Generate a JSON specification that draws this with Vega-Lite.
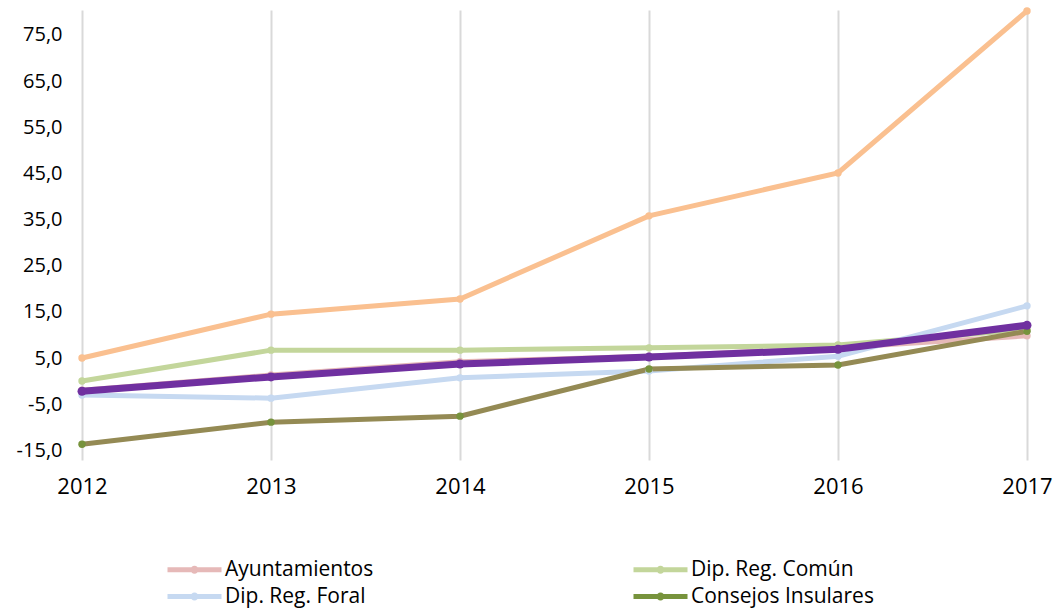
{
  "$schema": "https://vega.github.io/schema/vega-lite/v6.json",
  "autosize": "none",
  "width": 945,
  "height": 450,
  "padding": {"left": 82, "top": 10, "right": 33, "bottom": 154},
  "background": "white",
  "config": {"font": "Open Sans", "view": {"stroke": null}},
  "data": {"values": [
    {"year": "2012", "serie": "Ayuntamientos", "v": -2.0},
    {"year": "2013", "serie": "Ayuntamientos", "v": 1.3},
    {"year": "2014", "serie": "Ayuntamientos", "v": 4.2},
    {"year": "2015", "serie": "Ayuntamientos", "v": 5.4},
    {"year": "2016", "serie": "Ayuntamientos", "v": 7.2},
    {"year": "2017", "serie": "Ayuntamientos", "v": 9.8},
    {"year": "2012", "serie": "Dip. Reg. Común", "v": 0.0},
    {"year": "2013", "serie": "Dip. Reg. Común", "v": 6.7},
    {"year": "2014", "serie": "Dip. Reg. Común", "v": 6.7},
    {"year": "2015", "serie": "Dip. Reg. Común", "v": 7.2},
    {"year": "2016", "serie": "Dip. Reg. Común", "v": 7.8},
    {"year": "2017", "serie": "Dip. Reg. Común", "v": 11.2},
    {"year": "2012", "serie": "Dip. Reg. Foral", "v": -3.0},
    {"year": "2013", "serie": "Dip. Reg. Foral", "v": -3.7},
    {"year": "2014", "serie": "Dip. Reg. Foral", "v": 0.7},
    {"year": "2015", "serie": "Dip. Reg. Foral", "v": 2.2},
    {"year": "2016", "serie": "Dip. Reg. Foral", "v": 5.4},
    {"year": "2017", "serie": "Dip. Reg. Foral", "v": 16.3},
    {"year": "2012", "serie": "Consejos Insulares", "v": -13.7},
    {"year": "2013", "serie": "Consejos Insulares", "v": -8.9},
    {"year": "2014", "serie": "Consejos Insulares", "v": -7.6},
    {"year": "2015", "serie": "Consejos Insulares", "v": 2.6},
    {"year": "2016", "serie": "Consejos Insulares", "v": 3.5},
    {"year": "2017", "serie": "Consejos Insulares", "v": 10.8},
    {"year": "2012", "serie": "Cabildos Insulares", "v": 5.0},
    {"year": "2013", "serie": "Cabildos Insulares", "v": 14.5},
    {"year": "2014", "serie": "Cabildos Insulares", "v": 17.8},
    {"year": "2015", "serie": "Cabildos Insulares", "v": 35.8},
    {"year": "2016", "serie": "Cabildos Insulares", "v": 45.1},
    {"year": "2017", "serie": "Cabildos Insulares", "v": 80.2},
    {"year": "2012", "serie": "Total", "v": -2.2},
    {"year": "2013", "serie": "Total", "v": 0.9},
    {"year": "2014", "serie": "Total", "v": 3.7},
    {"year": "2015", "serie": "Total", "v": 5.2},
    {"year": "2016", "serie": "Total", "v": 6.9},
    {"year": "2017", "serie": "Total", "v": 12.1}
  ]},
  "encoding": {
    "x": {
      "field": "year", "type": "ordinal",
      "scale": {"type": "point", "padding": 0},
      "axis": {"title": null, "labelAngle": 0, "domain": false, "ticks": false, "grid": true, "gridColor": "#D9D9D9", "gridWidth": 2, "labelFontSize": 22, "labelColor": "#000000", "labelPadding": 16, "labelFont": "Open Sans"}
    },
    "y": {
      "field": "v", "type": "quantitative",
      "scale": {"domain": [-17.1, 80.4], "nice": false, "zero": false},
      "axis": {"title": null, "values": [-15, -5, 5, 15, 25, 35, 45, 55, 65, 75], "labelExpr": "replace((datum.value < 0 ? '-' : '') + format(abs(datum.value), '.1f'), '.', ',')", "domain": false, "ticks": false, "grid": false, "labelFontSize": 20, "labelColor": "#000000", "labelPadding": 20, "labelFont": "Open Sans"}
    }
  },
  "layer": [
    {
      "data": {"values": [{"z": 0}]},
      "mark": {"type": "rule", "color": "#D9D9D9", "strokeWidth": 2},
      "encoding": {"x": null, "y": {"datum": 0}}
    },
    {
      "transform": [{"filter": "datum.serie !== 'Total'"}],
      "mark": {"type": "line", "strokeWidth": 5},
      "encoding": {
        "color": {
          "field": "serie", "type": "nominal",
          "scale": {
            "domain": ["Ayuntamientos", "Dip. Reg. Común", "Dip. Reg. Foral", "Consejos Insulares", "Cabildos Insulares", "Total"],
            "range": ["#E6B9B8", "#C3D69B", "#C6D9F1", "#948A54", "#FAC090", "#7030A0"]
          },
          "legend": {
            "values": ["Ayuntamientos", "Dip. Reg. Común", "Dip. Reg. Foral", "Consejos Insulares"],
            "title": null,
            "orient": "none",
            "direction": "horizontal",
            "legendX": 102,
            "legendY": 549,
            "columns": 2,
            "columnPadding": 259,
            "rowPadding": 5,
            "symbolType": "M-2.7,-0.25L2.7,-0.25L2.7,0.25L-2.7,0.25Z M-0.4,0A0.4,0.4 0 1,1 0.4,0A0.4,0.4 0 1,1 -0.4,0Z",
            "symbolSize": 400,
            "symbolStrokeWidth": 0,
            "labelFontSize": 21,
            "labelLimit": 400,
            "labelFont": "Open Sans",
            "labelColor": "#000000",
            "labelOffset": 20,
            "encode": {"symbols": {"update": {"fill": {"signal": "datum.value === 'Ayuntamientos' ? '#E6B9B8' : datum.value === 'Dip. Reg. Común' ? '#C3D69B' : datum.value === 'Dip. Reg. Foral' ? '#C6D9F1' : '#948A54'"}, "strokeWidth": {"value": 0}, "opacity": {"value": 1}}}}
          }
        }
      }
    },
    {
      "transform": [{"filter": "datum.serie !== 'Total'"}],
      "mark": {"type": "point", "filled": true, "size": 55, "opacity": 1},
      "encoding": {
        "fill": {
          "field": "serie", "type": "nominal",
          "scale": {
            "domain": ["Ayuntamientos", "Dip. Reg. Común", "Dip. Reg. Foral", "Consejos Insulares", "Cabildos Insulares", "Total"],
            "range": ["#E6B9B8", "#C3D69B", "#C6D9F1", "#77933C", "#FAC090", "#7030A0"]
          },
          "legend": null
        }
      }
    },
    {
      "transform": [{"filter": "datum.serie === 'Total'"}],
      "mark": {"type": "line", "strokeWidth": 7},
      "encoding": {"color": {"field": "serie", "type": "nominal"}}
    },
    {
      "transform": [{"filter": "datum.serie === 'Total'"}],
      "mark": {"type": "point", "filled": true, "size": 80, "opacity": 1},
      "encoding": {"fill": {"field": "serie", "type": "nominal", "legend": null}}
    }
  ]
}
